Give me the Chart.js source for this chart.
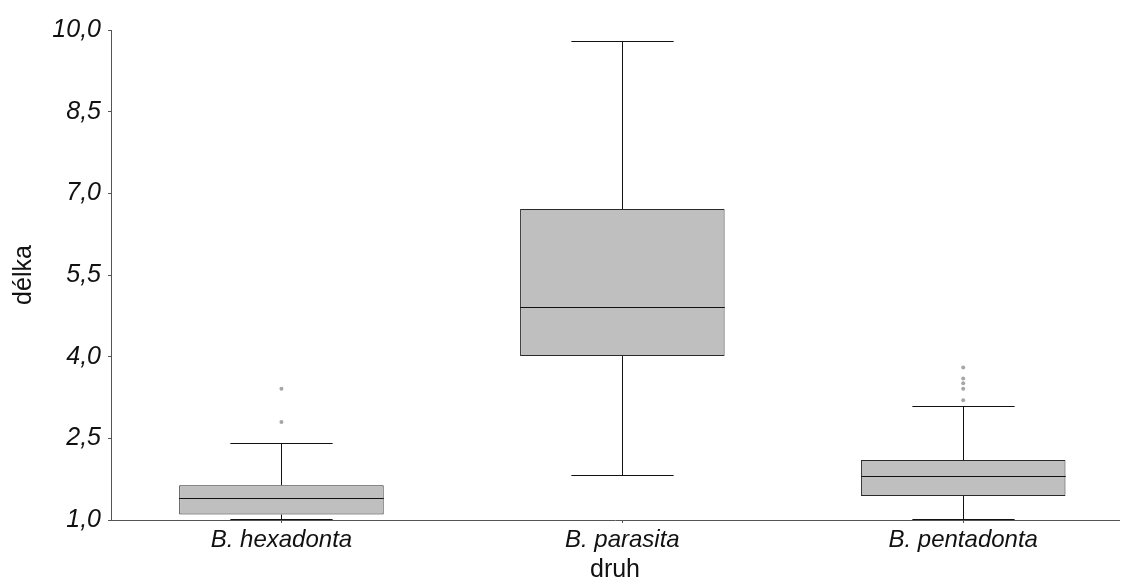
<!DOCTYPE html>
<html>
<head>
<meta charset="utf-8">
<script src="https://cdn.jsdelivr.net/npm/chart.js@4"></script>
<style>
  body { margin: 0; background: #fff; }
  #wrap { width: 1123px; height: 585px; }
</style>
</head>
<body>
<div id="wrap"><canvas id="chart" width="1123" height="585"></canvas></div>
<script>
// data
const categories = ["B. hexadonta", "B. parasita", "B. pentadonta"];
const minValues = [1.0, 1.81, 1.0];
const q1Values = [1.10, 4.01, 1.44];
const medianValues = [1.40, 4.91, 1.80];
const q3Values = [1.64, 6.71, 2.10];
const maxValues = [2.41, 9.80, 3.10];
const outliers = [[3.41, 2.80], [], [3.80, 3.60, 3.51, 3.41, 3.20]];
const yTicks = [1.0, 2.5, 4.0, 5.5, 7.0, 8.5, 10.0];

// x is a numeric position per category (0, 1, 2); the axis is cut on the right
const boxData = categories.map((c, i) => ({ x: i, y: [q1Values[i], q3Values[i]] }));

const outlierData = [];
outliers.forEach((list, i) => {
  list.forEach(v => outlierData.push({ x: i, y: v }));
});

// whiskers + median drawn through the scales
const whiskerPlugin = {
  id: "whiskers",
  afterDatasetsDraw(chart) {
    const ctx = chart.ctx;
    const xs = chart.scales.x;
    const ys = chart.scales.y;
    const bars = chart.getDatasetMeta(0).data;
    ctx.save();
    ctx.strokeStyle = "#111";
    ctx.lineWidth = 1;
    categories.forEach((c, i) => {
      const x = Math.round(xs.getPixelForValue(i)) + 0.5;
      const half = bars[i].width / 2;
      const cap = half / 2;
      const yMin = ys.getPixelForValue(minValues[i]);
      const yQ1 = ys.getPixelForValue(q1Values[i]);
      const yMed = Math.round(ys.getPixelForValue(medianValues[i])) + 0.5;
      const yQ3 = ys.getPixelForValue(q3Values[i]);
      const yMax = Math.round(ys.getPixelForValue(maxValues[i])) + 0.5;
      const yLow = Math.round(yMin) - 0.5;
      ctx.beginPath();
      ctx.moveTo(x, yQ3); ctx.lineTo(x, yMax);
      ctx.moveTo(x - cap, yMax); ctx.lineTo(x + cap, yMax);
      ctx.moveTo(x, yQ1); ctx.lineTo(x, yLow);
      ctx.moveTo(x - cap, yLow); ctx.lineTo(x + cap, yLow);
      ctx.moveTo(x - half, yMed); ctx.lineTo(x + half, yMed);
      ctx.stroke();
    });
    ctx.restore();
  }
};

const ctx = document.getElementById("chart").getContext("2d");

new Chart(ctx, {
  data: {
    datasets: [
      {
        type: "bar",
        data: boxData,
        backgroundColor: "#bfbfbf",
        borderColor: "#2a2a2a",
        borderWidth: 1,
        borderSkipped: false,
        categoryPercentage: 1,
        barPercentage: 0.6,
        order: 2
      },
      {
        type: "scatter",
        data: outlierData,
        backgroundColor: "#a6a6a6",
        borderWidth: 0,
        pointRadius: 2,
        order: 1
      }
    ]
  },
  options: {
    responsive: false,
    animation: false,
    layout: { padding: { top: 30, right: 3, left: 0, bottom: 0 } },
    plugins: {
      legend: { display: false },
      tooltip: { enabled: false }
    },
    scales: {
      x: {
        type: "linear",
        min: -0.5,
        max: 2.457,
        offset: false,
        afterBuildTicks(scale) {
          scale.ticks = categories.map((c, i) => ({ value: i }));
        },
        grid: { display: true, offset: false, drawOnChartArea: false, drawTicks: true, tickLength: 3, color: "#555" },
        border: { display: true, color: "#555", width: 1 },
        ticks: {
          color: "#111",
          padding: 3,
          maxRotation: 0,
          autoSkip: false,
          callback: v => categories[v],
          font: { family: "Liberation Sans, Arial, sans-serif", size: 24, style: "italic" }
        },
        title: {
          display: true,
          text: "druh",
          color: "#111",
          padding: { top: 9, bottom: 0 },
          font: { family: "Liberation Sans, Arial, sans-serif", size: 25 }
        },
        afterFit(scale) { scale.height = 65; }
      },
      y: {
        min: 1,
        max: 10,
        afterBuildTicks(scale) {
          scale.ticks = yTicks.map(v => ({ value: v }));
        },
        grid: { display: true, drawOnChartArea: false, drawTicks: true, tickLength: 3, color: "#555" },
        border: { display: true, color: "#555", width: 1 },
        ticks: {
          color: "#111",
          padding: 7,
          callback: v => v.toFixed(1).replace(".", ","),
          font: { family: "Liberation Sans, Arial, sans-serif", size: 25, style: "italic" }
        },
        title: {
          display: true,
          text: "délka",
          color: "#111",
          padding: { top: 9, bottom: 0 },
          font: { family: "Liberation Sans, Arial, sans-serif", size: 25 }
        },
        afterFit(scale) { scale.width = 111; }
      }
    }
  },
  plugins: [whiskerPlugin]
});
</script>
</body>
</html>
